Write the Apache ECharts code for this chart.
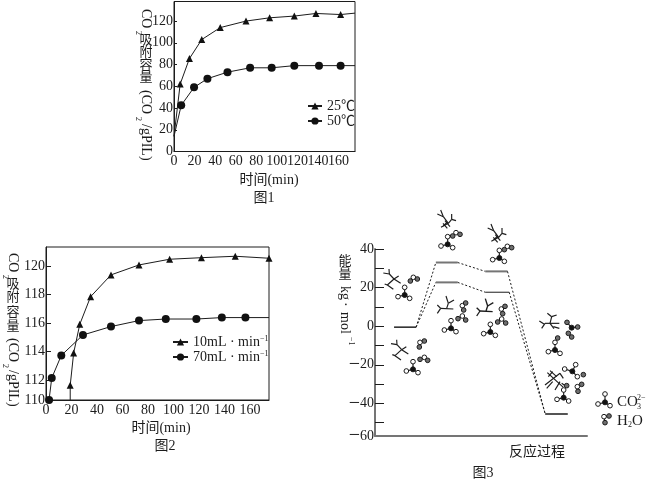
<!DOCTYPE html>
<html><head><meta charset="utf-8">
<style>html,body{margin:0;padding:0;background:#fff}#c{width:650px;height:482px}</style>
<script src="https://cdn.jsdelivr.net/npm/echarts@6/dist/echarts.min.js"></script>
</head><body><div id="c"></div>
<script>
// ---- Figure 1
const fig1Time25 = [0, 6, 15, 27, 45, 70, 93, 117, 138, 162, 176];
const fig1Cap25  = [14, 62, 85.5, 103, 114, 120, 123, 124.6, 127, 126, 127.3];
const fig1Time50 = [0, 7, 19.5, 32.5, 52, 74, 95, 117, 141, 162, 176];
const fig1Cap50  = [14, 42.5, 59, 67, 73, 77, 77, 79, 79, 79, 79];
// ---- Figure 2
const fig2Time10 = [19, 19, 21.7, 26.5, 35, 51, 73, 97, 122, 148.5, 175];
const fig2Cap10  = [110.6, 111.63, 113.9, 115.92, 117.86, 119.39, 120.09, 120.49, 120.6, 120.7, 120.56];
const fig2Time70 = [2.4, 4.5, 12, 29, 51, 73, 94, 118, 138, 156.5, 175];
const fig2Cap70  = [110.6, 112.14, 113.73, 115.17, 115.76, 116.18, 116.29, 116.29, 116.39, 116.39, 116.39];
const fig2Ticks  = [112, 114, 116, 118, 120];
const fig2Floor  = 110.6;
// ---- Figure 3 (reaction coordinate, energy)
const pathUpperX = [9, 19.4, 28.7, 39, 52, 62.5, 80.3, 90.9];
const pathUpperE = [-0.5, -0.5, 33, 33, 28.4, 28.4, -45.5, -45.5];
const pathLowerX = [9, 19.4, 28.7, 39, 52, 63.3, 80.3, 90.9];
const pathLowerE = [-0.5, -0.5, 22.7, 22.7, 17.6, 17.6, -45.5, -45.5];
const fig3Ticks  = [-50, -40, -30, -20, -10, 0, 10, 20, 30, 40];
const fig3Labels = [-40, -20, 0, 20, 40];
const fig3Floor  = -56.9;

const FF = '"Liberation Serif","Noto Sans CJK SC",serif';
const INK = '#1c1c1c', GREY = '#757575';
const pairs = (xs, ys, noMark) => xs.map((x, i) => noMark.includes(i) ? {value:[x, ys[i]], symbol:'none'} : [x, ys[i]]);

function curve(name, xs, ys, sym, size, idx, noMark) {
  return {type:'line', name, xAxisIndex:idx, yAxisIndex:idx, data:pairs(xs, ys, noMark), clip:false,
    symbol:sym, symbolSize:size, showSymbol:true, animation:false, silent:true,
    lineStyle:{color:INK, width:1}, itemStyle:{color:'#111'}};
}
function segments(xs, ys, thickLevels) {
  const out = [];
  for (let i = 0; i < xs.length - 1; i++) {
    const solid = i % 2 === 0;
    const thick = solid && thickLevels.includes(i);
    out.push({type:'line', xAxisIndex:2, yAxisIndex:2, symbol:'none', animation:false, silent:true,
      data:[[xs[i], ys[i]], [xs[i+1], ys[i+1]]],
      lineStyle:{color: thick ? GREY : INK, width: thick ? 2 : 1, type: solid ? 'solid' : [2, 2]}});
  }
  return out;
}
const axisText = {fontFamily:FF, fontSize:14, color:INK};
function xA(idx, max) {
  return {type:'value', gridIndex:idx, min:0, max, interval:20,
    axisLine:{show:true, onZero:false, lineStyle:{color:INK, width:1}}, axisTick:{show:false},
    splitLine:{show:false}, axisLabel:{...axisText, margin:3, showMaxLabel:false, hideOverlap:false}};
}

// free text helpers
const txt = (text, x, y, size, align) => ({type:'text', x, y, silent:true,
  style:{text, fontSize:size, fontFamily:FF, fill:INK, align:align||'center', verticalAlign:'middle'}});
const vtxt = (text, x, y, size) => ({type:'text', x, y, rotation:-Math.PI/2, silent:true,
  style:{text, fontSize:size, fontFamily:FF, fill:INK, align:'left', verticalAlign:'middle'}});

function capacityLabel(x, ys) {
  return [vtxt('CO', x, ys[0], 14), vtxt('2', x-8, ys[1], 8),
    txt('吸', x, ys[2], 13), txt('附', x, ys[3], 13), txt('容', x, ys[4], 13), txt('量', x, ys[5], 13),
    vtxt('(CO', x, ys[6], 14), vtxt('2', x-8, ys[7], 8), vtxt('/gPIL)', x, ys[8], 14)];
}

// molecule decoration, drawn in a 3x local space
const bond = (a, b, w) => ({type:'line', silent:true, shape:{x1:a[0], y1:a[1], x2:b[0], y2:b[1]}, style:{stroke:INK, lineWidth:w||3.5}});
const ball = (p, fill, r) => ({type:'circle', silent:true, shape:{cx:p[0], cy:p[1], r:r||7}, style:{fill, stroke:INK, lineWidth:3}});
function co3(c, l) {
  const L = l || [[0,-23],[-20,5],[15,10]];
  const pts = L.map(d => [c[0]+d[0], c[1]+d[1]]);
  return [...pts.map(p => bond(c, p)), ...pts.map(p => ball(p, '#fff')), ball(c, '#111', 7.5)];
}
const grey = p => ball(p, '#6e6e6e');
const water = (g1, w, g2) => [bond(g1, w), bond(w, g2), ball(w, '#fff'), grey(g1), grey(g2)];
const sticks = (segs, dx, dy, w) => segs.map(s => bond([s[0]+dx, s[1]+dy], [s[2]+dx, s[3]+dy], w));

const ethA = [[160,219,178,222],[178,222,177,207],[178,222,192,237],[192,237,206,228],[192,237,212,250],[192,237,172,255],[172,255,190,268],[172,255,164,252]];
const ethB = [[322,42,340,50],[340,50,332,30],[340,50,355,70],[355,70,365,58],[365,58,365,42],[365,58,378,62],[355,70,333,82],[345,62,360,80],[339,70,352,85],[352,66,340,78]];
const ethC = [[322,315,332,325],[322,340,332,325],[332,325,370,327],[350,325,355,310],[355,310,348,288],[355,310,372,300]];
const ethD = [[628,363,642,372],[635,385,645,370],[645,370,688,370],[660,370,665,350],[665,350,652,340],[665,350,680,345],[660,370,672,386],[670,380,688,385]];
const ethE = [[652,518,700,562],[645,555,690,520],[668,515,655,530],[660,512,680,530],[690,520,700,535],[650,565,668,545],[675,570,690,545],[695,550,710,560]];

const moleculeArt = [
  ...sticks(ethA,0,0), ...sticks(ethB,0,0), ...sticks(ethB,151,42), ...sticks(ethA,23,212),
  ...sticks(ethC,0,0), ...sticks(ethC,118,8,4), ...sticks(ethD,0,0), ...sticks(ethE,0,0),
  ...co3([224,285]), ...co3([353,133]), ...co3([508,174]), ...co3([363,385]), ...co3([481,396]),
  ...co3([249,508]), ...co3([675,450]), ...co3([701,593]), ...co3([825,607],[[0,-25],[-21,5],[15,10]]),
  ...co3([727,514],[[-23,-7],[10,-20],[15,16]]),
  ...water([241,243],[250,232],[262,237]), ...water([368,108],[378,98],[390,103]),
  ...water([523,149],[532,139],[545,143]), ...water([268,441],[270,427],[283,423]),
  ...water([270,478],[283,472],[293,481]), ...water([407,309],[397,317],[401,330]),
  ...water([384,356],[397,348],[407,360]), ...water([525,319],[514,327],[518,341]),
  ...water([503,366],[515,357],[527,369]), ...water([755,553],[742,560],[744,574]),
  ...water([837,648],[822,650],[825,668]),
  bond([725,383],[711,367]), bond([725,383],[743,381]), grey([711,367]), grey([743,381]), ball([725,383],'#111',7.5),
  grey([715,400]), grey([725,411]), grey([683,414]), grey([760,524]), grey([710,557])
];

const option = {
  animation:false, backgroundColor:'#fff',
  grid:[
    {left:174, top:1.5, width:181, height:150, show:true, borderColor:INK, borderWidth:1},
    {left:46, top:247, width:223, height:153, show:true, borderColor:INK, borderWidth:1},
    {left:375, top:249, width:212, height:187, show:false}
  ],
  xAxis:[
    xA(0, 176),
    xA(1, 175),
    {type:'value', gridIndex:2, min:0, max:100, axisLine:{show:true, onZero:false, lineStyle:{color:GREY, width:2}},
     axisTick:{show:false}, axisLabel:{show:false}, splitLine:{show:false}}
  ],
  yAxis:[
    {type:'value', gridIndex:0, min:0, max:138, interval:20,
     axisLine:{show:true, onZero:false, lineStyle:{color:INK, width:1}},
     axisTick:{show:true, inside:true, length:3, lineStyle:{color:INK}},
     splitLine:{show:false}, axisLabel:{...axisText, margin:1, showMaxLabel:false}},
    {type:'value', gridIndex:1, min:fig2Floor, max:121.35,
     axisLine:{show:true, onZero:false, lineStyle:{color:INK, width:1}},
     axisTick:{show:true, inside:true, length:5, lineStyle:{color:INK}, customValues:fig2Ticks},
     splitLine:{show:false},
     axisLabel:{...axisText, margin:1, customValues:[fig2Floor, ...fig2Ticks],
       formatter:v => v === fig2Floor ? '110' : String(v)}},
    {type:'value', gridIndex:2, min:fig3Floor, max:40,
     axisLine:{show:true, onZero:false, lineStyle:{color:GREY, width:2}},
     axisTick:{show:true, inside:true, length:9, lineStyle:{color:INK}, customValues:fig3Ticks},
     splitLine:{show:false},
     axisLabel:{...axisText, margin:1, customValues:[fig3Floor, ...fig3Labels],
       rich:{m:{fontFamily:FF, fontSize:20, color:INK}},
       formatter:v => v === fig3Floor ? '{m|−}60' : (v < 0 ? '{m|−}' + (-v) : String(v))}}
  ],
  legend:[
    {data:['25℃','50℃'], orient:'vertical', left:307, top:99, itemWidth:14, itemHeight:9, itemGap:1, padding:0,
     textStyle:{fontFamily:FF, fontSize:14, color:INK}, selectedMode:false},
    {data:['10mL·min-1','70mL·min-1'], orient:'vertical', left:172, top:335, itemWidth:15, itemHeight:9, itemGap:1, padding:0, selectedMode:false,
     formatter:n => n.slice(0,4) + ' · min{s|−1}',
     textStyle:{fontFamily:FF, fontSize:14, color:INK, rich:{s:{fontFamily:FF, fontSize:8, color:INK, verticalAlign:'top'}}}}
  ],
  series:[
    curve('25℃', fig1Time25, fig1Cap25, 'triangle', 7, 0, [0,10]),
    curve('50℃', fig1Time50, fig1Cap50, 'circle', 8, 0, [0,10]),
    curve('10mL·min-1', fig2Time10, fig2Cap10, 'triangle', 7, 1, [0]),
    curve('70mL·min-1', fig2Time70, fig2Cap70, 'circle', 8, 1, [10]),
    ...segments(pathUpperX, pathUpperE, [2,4]),
    ...segments(pathLowerX, pathLowerE, [2])
  ],
  graphic:{elements:[
    {type:'group', x:330, y:200, scaleX:1/3, scaleY:1/3, silent:true, children:moleculeArt},
    ...capacityLabel(146, [9,31,41,53,66,78,90,117,124]),
    ...capacityLabel(13, [253,275,285,298,313,327,338,364,370]),
    txt('时间(min)', 269, 180, 14), txt('时间(min)', 161, 428, 14),
    txt('图1', 264, 198, 14), txt('图2', 165, 446, 14), txt('图3', 483, 473, 14),
    txt('反应过程', 537, 452, 14),
    txt('能', 345, 262, 13), txt('量', 345, 275, 13),
    vtxt('kg', 345, 286, 14), vtxt('·', 345, 302, 14), vtxt('mol', 345, 312, 14), vtxt('−1', 351, 337, 8),
    txt('CO', 617, 402, 15, 'left'), txt('2−', 637, 398, 8, 'left'), txt('3', 637, 407, 8, 'left'),
    txt('H', 617, 421, 15, 'left'), txt('2', 628, 425, 8, 'left'), txt('O', 632, 421, 15, 'left')
  ]}
};
const chart = echarts.init(document.getElementById('c'), null, {renderer:'canvas'});
chart.setOption(option);
</script></body></html>
